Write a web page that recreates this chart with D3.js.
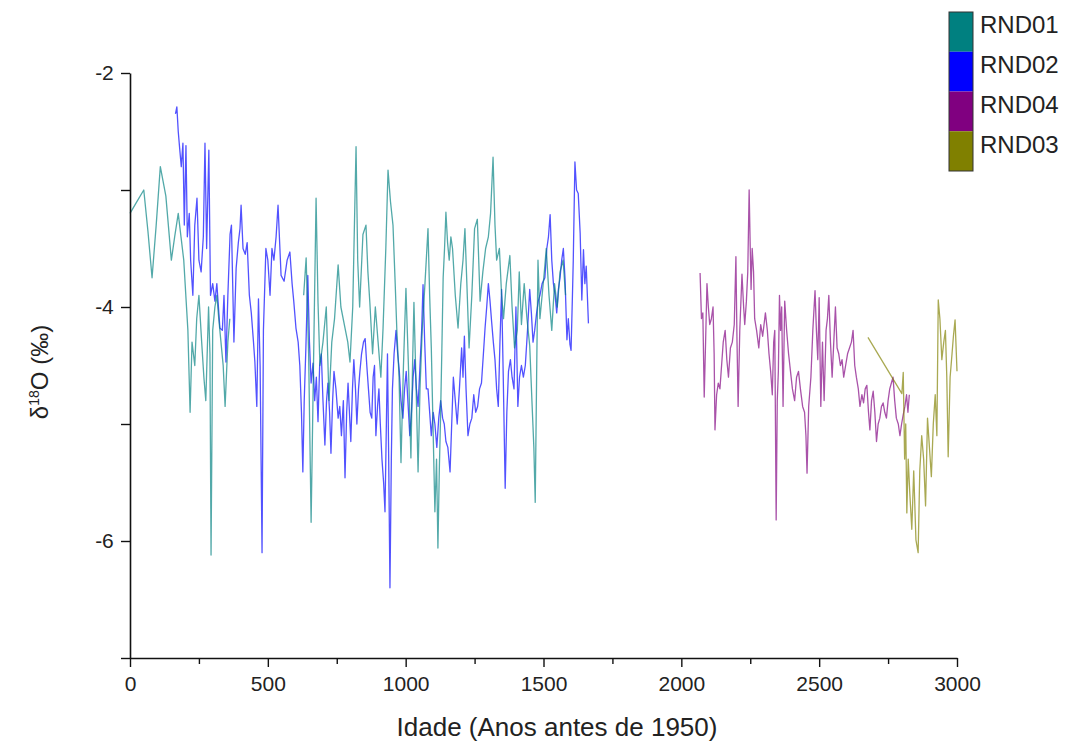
<!DOCTYPE html>
<html><head><meta charset="utf-8">
<script src="https://cdn.jsdelivr.net/npm/d3@7/dist/d3.min.js"></script>
<style>
html,body{margin:0;padding:0;background:#fff;}
text{font-family:"Liberation Sans",Arial,sans-serif;fill:#222;}
</style></head>
<body><svg id="c" width="1073" height="751"></svg>
<script>
// ---------- data ----------
const seriesNames = ["RND01","RND02","RND04","RND03"];
const seriesColors = ["#008080","#0000ff","#800080","#808000"];
const xTicks = [0,500,1000,1500,2000,2500,3000];
const xMinorTicks = [250,750,1250,1750,2250,2750];
const yTicks = [-2,-4,-6];
const yMinorTicks = [-3,-5,-7];

const rnd01Age = [0,25,50,65,80,95,110,130,150,162,175,185,195,205,210,218,225,235,242,250,260,268,275,285,290,294,300,308,315,322,330,338,345,355,362,400,
630,639,648,657,665,675,682,689,700,712,722,732,742,755,765,780,790,798,808,820,826,833,845,856,863,870,880,890,900,910,918,928,936,945,954,962,968,976,983,992,1001,1010,1019,1025,1030,1038,1045,1052,1060,1070,1081,1087,1093,1100,1106,1112,1117,1122,1126,1131,1136,1141,1146,1152,1158,1164,1170,1180,1190,1200,1208,1215,1222,1230,1240,1250,1260,1270,1280,1290,1300,1308,1317,1324,1330,1340,1348,1355,1365,1378,1386,1395,1405,1412,1420,1430,1440,1450,1458,1465,1470,1475,1480,1487,1495,1503,1510,1520,1530,1540,1550,1560,1571,1580];
const rnd01Val = [-3.2,-3.1,-3.0,-3.35,-3.75,-3.3,-2.8,-3.05,-3.6,-3.4,-3.2,-3.4,-3.6,-4.0,-4.2,-4.9,-4.3,-4.5,-4.1,-3.9,-4.3,-4.6,-4.8,-4.0,-4.4,-6.12,-4.2,-4.0,-3.9,-4.1,-4.3,-4.5,-4.85,-4.3,-4.1,null,
-3.9,-3.58,-4.4,-5.84,-4.6,-3.07,-3.96,-4.5,-4.3,-4.0,-4.8,-4.3,-4.1,-3.64,-4.0,-4.18,-4.3,-4.47,-4.0,-2.63,-3.6,-4.0,-3.38,-3.3,-3.7,-3.96,-4.4,-4.0,-4.3,-4.6,-4.18,-3.5,-2.83,-3.1,-3.3,-3.8,-4.2,-4.6,-5.33,-4.5,-3.84,-4.5,-5.29,-4.5,-3.96,-4.7,-5.41,-4.7,-4.2,-3.8,-3.33,-3.9,-4.35,-5.1,-5.75,-5.3,-6.06,-5.4,-5.0,-4.4,-3.75,-3.5,-3.19,-3.45,-3.6,-3.4,-3.5,-3.9,-4.18,-3.8,-3.6,-3.33,-3.8,-4.35,-3.9,-3.33,-3.25,-3.95,-3.7,-3.5,-3.4,-3.2,-2.72,-3.3,-3.6,-3.5,-3.9,-4.1,-3.8,-3.56,-4.0,-4.35,-4.2,-3.7,-4.15,-3.8,-4.1,-4.33,-4.8,-5.2,-5.67,-4.6,-3.6,-4.1,-3.9,-3.7,-3.5,-3.9,-4.2,-3.8,-4.0,-3.7,-3.6,-3.9];

const rnd02Age = [165,170,175,180,186,192,197,203,208,215,220,228,235,243,250,258,266,272,278,286,292,300,308,315,326,335,341,348,355,363,368,377,385,393,399,403,410,418,425,433,440,448,453,460,466,472,479,484,493,500,508,515,522,530,537,548,559,570,580,588,594,602,610,616,622,627,632,638,645,651,657,664,670,676,682,688,694,700,707,713,718,724,729,735,740,747,755,761,767,774,780,786,791,796,801,807,812,818,823,829,834,840,847,853,859,865,871,877,882,887,892,898,903,908,914,920,925,930,934,938,943,948,952,958,965,971,977,983,990,996,1002,1008,1015,1021,1027,1033,1039,1045,1052,1058,1063,1069,1075,1081,1087,1093,1100,1106,1113,1120,1127,1134,1140,1146,1153,1161,1167,1173,1180,1187,1195,1203,1208,1213,1219,1226,1233,1240,1247,1254,1261,1268,1275,1282,1288,1294,1300,1306,1312,1318,1324,1330,1336,1342,1348,1354,1361,1367,1373,1380,1386,1393,1400,1407,1413,1420,1427,1434,1442,1450,1456,1462,1468,1475,1481,1487,1495,1505,1512,1518,1524,1530,1536,1542,1548,1554,1560,1566,1572,1578,1585,1590,1596,1600,1605,1608,1614,1620,1626,1633,1639,1645,1650,1655,1663];
const rnd02Val = [-2.35,-2.29,-2.5,-2.64,-2.8,-2.6,-3.3,-2.62,-3.4,-3.2,-3.6,-3.9,-3.3,-3.07,-3.6,-3.7,-3.4,-2.6,-3.5,-2.66,-3.9,-3.8,-3.95,-3.8,-4.18,-4.2,-3.9,-4.47,-3.9,-3.38,-3.3,-4.3,-3.67,-3.45,-3.33,-3.13,-3.5,-3.55,-3.45,-3.9,-4.05,-4.3,-4.47,-4.85,-3.93,-4.5,-6.1,-4.2,-3.5,-3.6,-3.9,-3.5,-3.6,-3.4,-3.13,-3.73,-3.78,-3.6,-3.53,-3.8,-3.95,-4.18,-4.3,-4.5,-4.9,-5.41,-4.8,-4.35,-3.73,-4.3,-4.65,-4.48,-4.8,-4.6,-4.98,-4.5,-4.4,-4.8,-5.18,-4.8,-4.65,-4.9,-5.25,-4.8,-4.55,-4.7,-4.95,-4.85,-5.1,-4.8,-5.46,-4.9,-4.65,-4.9,-5.15,-4.7,-4.45,-4.7,-5.0,-4.7,-4.55,-4.4,-4.3,-4.27,-4.5,-4.7,-4.9,-4.95,-4.6,-4.5,-5.1,-4.85,-4.7,-5.0,-5.3,-5.5,-5.75,-5.0,-4.4,-5.2,-6.4,-5.3,-4.7,-4.4,-4.2,-4.4,-4.55,-4.8,-4.95,-4.7,-4.55,-4.8,-5.1,-4.9,-4.6,-4.45,-4.7,-4.85,-4.5,-4.2,-3.81,-4.3,-4.7,-4.7,-4.9,-5.1,-4.9,-5.0,-5.2,-4.95,-4.8,-4.95,-5.0,-5.15,-5.2,-5.41,-5.0,-4.6,-4.8,-5.0,-4.7,-4.35,-4.6,-4.25,-4.7,-5.1,-5.0,-4.95,-4.75,-4.9,-4.85,-4.7,-4.65,-4.4,-4.18,-4.0,-3.8,-3.95,-4.13,-4.3,-4.45,-4.7,-4.85,-4.3,-3.85,-4.6,-5.55,-4.9,-4.55,-4.45,-4.6,-4.7,-4.0,-4.85,-4.6,-4.5,-4.6,-4.5,-4.2,-3.85,-4.05,-4.3,-4.2,-4.05,-3.95,-3.9,-3.8,-3.75,-3.5,-3.4,-3.21,-3.6,-3.8,-3.9,-4.05,-3.85,-3.75,-3.6,-3.5,-3.75,-4.28,-4.1,-4.32,-4.37,-3.9,-3.6,-2.76,-3.0,-3.03,-3.37,-3.94,-3.51,-3.8,-3.65,-4.14];

const rnd04Age = [2068,2073,2078,2083,2088,2093,2098,2103,2109,2115,2119,2122,2128,2134,2140,2146,2152,2159,2165,2171,2178,2185,2192,2198,2202,2206,2212,2220,2226,2230,2236,2241,2246,2250,2253,2257,2262,2266,2273,2281,2288,2295,2305,2312,2318,2324,2330,2335,2339,2344,2348,2352,2356,2360,2364,2369,2375,2382,2389,2396,2403,2411,2418,2425,2432,2440,2447,2452,2456,2462,2470,2477,2485,2490,2495,2500,2506,2512,2518,2525,2530,2535,2541,2547,2553,2559,2565,2571,2577,2583,2589,2596,2603,2610,2617,2623,2629,2635,2642,2648,2655,2661,2667,2673,2679,2684,2690,2696,2702,2708,2714,2720,2726,2732,2738,2744,2750,2756,2762,2768,2774,2780,2787,2793,2799,2805,2811,2817,2822,2827];
const rnd04Val = [-3.71,-4.1,-4.05,-4.77,-4.3,-3.8,-4.0,-4.15,-4.1,-4.0,-4.4,-5.05,-4.75,-4.65,-4.7,-4.5,-4.3,-4.2,-4.45,-4.6,-4.35,-4.3,-4.15,-3.57,-4.3,-4.85,-4.2,-3.72,-4.0,-4.15,-3.95,-3.7,-3.0,-3.5,-3.85,-3.5,-3.7,-4.1,-4.2,-4.35,-4.15,-4.25,-4.05,-4.2,-4.4,-4.55,-4.75,-4.3,-4.2,-5.82,-4.8,-4.55,-3.9,-4.2,-4.0,-4.85,-3.95,-4.2,-4.4,-4.55,-4.7,-4.8,-4.6,-4.55,-4.7,-4.85,-4.9,-5.1,-5.42,-4.85,-4.6,-4.2,-3.86,-4.2,-4.45,-3.92,-4.85,-4.3,-4.8,-4.2,-4.1,-3.9,-4.3,-4.6,-4.3,-4.0,-4.35,-4.4,-4.5,-4.45,-4.6,-4.5,-4.4,-4.35,-4.3,-4.2,-4.5,-4.6,-4.7,-4.85,-4.75,-4.82,-4.7,-4.67,-4.9,-5.05,-4.8,-4.72,-4.9,-5.15,-5.0,-4.95,-4.85,-4.82,-4.9,-4.95,-4.8,-4.7,-4.65,-4.6,-4.8,-4.95,-5.0,-5.1,-5.0,-4.92,-4.85,-4.75,-4.9,-4.75];

const rnd03Age = [2677,2800,2805,2810,2814,2818,2823,2829,2836,2843,2851,2859,2865,2872,2879,2886,2893,2900,2907,2914,2921,2927,2932,2938,2945,2952,2958,2963,2968,2975,2982,2987,2993,3000];
const rnd03Val = [-4.26,-4.74,-4.56,-5.3,-5.0,-5.76,-5.3,-5.6,-5.9,-5.4,-5.99,-6.1,-5.4,-5.1,-5.3,-5.7,-4.95,-5.2,-5.45,-5.0,-4.75,-5.1,-3.94,-4.1,-4.45,-4.3,-4.2,-4.6,-5.28,-4.6,-4.4,-4.25,-4.11,-4.55];

// ---------- chart ----------
const svg = d3.select("#c");
const x = d3.scaleLinear().domain([0,3000]).range([130,957]);
const y = d3.scaleLinear().domain([-7,-2]).range([658,73]);

const series = [
  {name:"RND02", age:rnd02Age, val:rnd02Val, color:seriesColors[1]},
  {name:"RND01", age:rnd01Age, val:rnd01Val, color:seriesColors[0]},
  {name:"RND04", age:rnd04Age, val:rnd04Val, color:seriesColors[2]},
  {name:"RND03", age:rnd03Age, val:rnd03Val, color:seriesColors[3]}
];
const line = d3.line().defined(d=>d[1]!==null).x(d=>x(d[0])).y(d=>y(d[1]));
svg.append("g").selectAll("path").data(series).join("path")
  .attr("d", s=>line(s.age.map((a,i)=>[a,s.val[i]])))
  .attr("fill","none").attr("stroke",s=>s.color)
  .attr("stroke-width",1.3).attr("stroke-opacity",0.68).attr("stroke-linejoin","round");

// axes
const fmt = d => String(d);
const gx = svg.append("g").attr("transform","translate(0,658)")
  .call(d3.axisBottom(x).tickValues(xTicks).tickSize(9).tickSizeOuter(0).tickFormat(fmt));
svg.append("g").attr("transform","translate(0,658)")
  .call(d3.axisBottom(x).tickValues(xMinorTicks).tickSize(6).tickFormat("")).select(".domain").remove();
const gy = svg.append("g").attr("transform","translate(130,0)")
  .call(d3.axisLeft(y).tickValues(yTicks).tickSize(9).tickSizeOuter(0).tickFormat(fmt));
svg.append("g").attr("transform","translate(130,0)")
  .call(d3.axisLeft(y).tickValues(yMinorTicks).tickSize(9).tickFormat("")).select(".domain").remove();
svg.selectAll(".domain").attr("stroke","#111").attr("stroke-width",1.6);
svg.selectAll(".tick line").attr("stroke","#111").attr("stroke-width",1.4);
gx.selectAll(".tick text").attr("font-size",21).attr("dy","1.0em").attr("fill","#222").style("font-family","Liberation Sans, Arial, sans-serif");
gy.selectAll(".tick text").attr("font-size",21).attr("dx","-0.2em").attr("fill","#222").style("font-family","Liberation Sans, Arial, sans-serif");

// axis titles
svg.append("text").attr("x",557).attr("y",736).attr("text-anchor","middle")
  .attr("font-size",26).text("Idade (Anos antes de 1950)");
const yt = svg.append("text").attr("transform","translate(48,372) rotate(-90)")
  .attr("text-anchor","middle").attr("font-size",24);
yt.append("tspan").text("δ");
yt.append("tspan").attr("font-size",14).attr("dy",-9).text("18");
yt.append("tspan").attr("dy",9).text("O (‰)");

// legend
const legendOrder = [0,1,2,3];
const ly = d3.scaleBand().domain(legendOrder).range([12,171]);
const lg = svg.append("g");
lg.selectAll("rect").data(legendOrder).join("rect")
  .attr("x",949).attr("y",i=>ly(i)).attr("width",24).attr("height",ly.bandwidth())
  .attr("fill",i=>seriesColors[i]);
lg.append("rect").attr("x",949).attr("y",12).attr("width",24).attr("height",159)
  .attr("fill","none").attr("stroke","#333").attr("stroke-width",1);
lg.selectAll("text").data(legendOrder).join("text")
  .attr("x",980).attr("y",i=>ly(i)+ly.bandwidth()/2 - 7).attr("dy","0.35em")
  .attr("font-size",24).text(i=>seriesNames[i]);
</script></body></html>
